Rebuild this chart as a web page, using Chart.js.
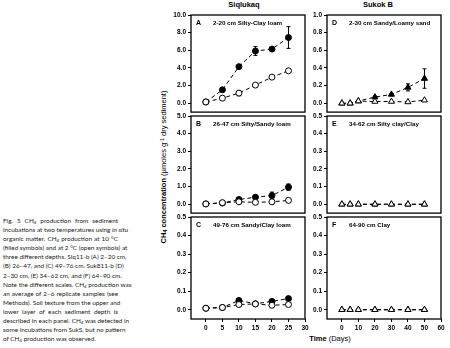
<!DOCTYPE html>
<html>
<head>
<meta charset="utf-8">
<title>CH4 production in sediment incubations</title>
<script src="https://cdn.jsdelivr.net/npm/chart.js@4"></script>
<style>
  html, body { margin: 0; padding: 0; background: #fff; }
  body { width: 450px; height: 348px; position: relative; overflow: hidden; font-family: "Liberation Sans", Arial, sans-serif; }
  canvas.panel { position: absolute; }
  .caption { position: absolute; left: 3px; top: 216px; width: 115px; font-family: Lato, "Open Sans", sans-serif; font-size: 6.4px; line-height: 9.1px; color: #222; }
  .caption div { text-align: justify; text-align-last: justify; white-space: nowrap; }
  .caption div.last { text-align-last: left; }
  .caption sub { font-size: 70%; vertical-align: -1px; line-height: 0; }
  .col-title { position: absolute; top: 0; font-weight: bold; font-size: 7.5px; transform: translateX(-50%); white-space: nowrap; }
  .ytitle { position: absolute; left: 163px; top: 167px; font-size: 7.5px; white-space: nowrap; transform: translate(-50%, -50%) rotate(-90deg); }
  .ytitle sub { font-size: 70%; vertical-align: -1px; line-height: 0; }
  .ytitle sup { font-size: 70%; vertical-align: 2px; line-height: 0; }
  .xtitle { position: absolute; left: 330px; top: 334px; font-size: 7.5px; white-space: nowrap; transform: translateX(-50%); }
</style>
</head>
<body>

<div class="caption">
  <div>Fig. 5 CH<sub>4</sub> production from sediment</div>
  <div>incubations at two temperatures using <i>in situ</i></div>
  <div>organic matter. CH<sub>4</sub> production at 10 °C</div>
  <div>(filled symbols) and at 2 °C (open symbols) at</div>
  <div>three different depths. Siq11-b (A) 2–20 cm,</div>
  <div>(B) 26–47, and (C) 49–76 cm. Suk811-b (D)</div>
  <div>2–30 cm, (E) 34–62 cm, and (F) 64–90 cm.</div>
  <div>Note the different scales. CH<sub>4</sub> production was</div>
  <div>an average of 2–6 replicate samples (see</div>
  <div>Methods). Soil texture from the upper and</div>
  <div>lower layer of each sediment depth is</div>
  <div>described in each panel. CH<sub>4</sub> was detected in</div>
  <div>some incubations from SukS, but no pattern</div>
  <div class="last">of CH<sub>4</sub> production was observed.</div>
</div>

<div class="col-title" style="left:244px">Siqlukaq</div>
<div class="col-title" style="left:378px">Sukok B</div>
<div class="ytitle"><b>CH<sub>4</sub> concentration</b> (µmoles g<sup>-1</sup> dry sediment)</div>
<div class="xtitle"><b>Time</b> (Days)</div>

<canvas class="panel" id="panelA"></canvas>
<canvas class="panel" id="panelB"></canvas>
<canvas class="panel" id="panelC"></canvas>
<canvas class="panel" id="panelD"></canvas>
<canvas class="panel" id="panelE"></canvas>
<canvas class="panel" id="panelF"></canvas>

<script>
// sampling days
const siqDays = [0, 5, 10, 15, 20, 25];
const sukDays = [0, 5, 10, 20, 30, 40, 50];

// Siqlukaq, 10 °C (filled) and 2 °C (open)
const siqA_warm = [0.15, 1.52, 4.15, 5.92, 6.14, 7.45];
const siqA_warmErr = [0, 0, 0, 0.5, 0.25, 1.23];
const siqA_cold = [0.15, 0.58, 1.15, 2.06, 2.96, 3.68];
const siqA_coldErr = [0, 0, 0.3, 0, 0, 0];

const siqB_warm = [0.02, 0.07, 0.27, 0.4, 0.49, 0.97];
const siqB_warmErr = [0, 0, 0.05, 0.08, 0.2, 0.18];
const siqB_cold = [0.02, 0.09, 0.14, 0.11, 0.14, 0.22];
const siqB_coldErr = [0, 0, 0, 0, 0, 0];

const siqC_warm = [0.008, 0.012, 0.05, 0.032, 0.045, 0.06];
const siqC_warmErr = [0, 0, 0.01, 0, 0.01, 0.008];
const siqC_cold = [0.008, 0.012, 0.028, 0.031, 0.024, 0.028];
const siqC_coldErr = [0, 0, 0, 0, 0, 0];

// Sukok B
const sukD_warm = [0, 0, 0.025, 0.07, 0.1, 0.18, 0.28];
const sukD_warmErr = [0, 0, 0, 0.01, 0.01, 0.04, 0.11];
const sukD_cold = [0, 0, 0.025, 0.02, 0.02, 0.015, 0.035];
const sukD_coldErr = [0, 0, 0, 0, 0, 0, 0];

const sukE_warm = [0, 0, 0, 0, 0, 0, 0];
const sukE_cold = [0, 0, 0, 0, 0, 0, 0];
const sukF_warm = [0, 0, 0, 0, 0, 0, 0];
const sukF_cold = [0, 0, 0, 0, 0, 0, 0];
const zeroErr = [0, 0, 0, 0, 0, 0, 0];

// tick labels
const ticksA = [0, 2, 4, 6, 8, 10];
const ticksB = [0, 1, 2, 3, 4, 5];
const ticksD = [0, 0.2, 0.4, 0.6, 0.8, 1.0];
const ticksSmall = [0, 0.1, 0.2, 0.3, 0.4, 0.5];
const siqTicks = [0, 5, 10, 15, 20, 25, 30];
const sukTicks = [0, 10, 20, 30, 40, 50, 60];

// frame layout
const AXIS_W = 40;
const PAD_TOP = 6;
const X_AXIS_H = 19;
const cols = [{ left: 191, right: 305, xmin: -4.5, xmax: 30 },
              { left: 327, right: 441, xmin: -9, xmax: 60 }];
const rows = [{ top: 15, bottom: 116 }, { top: 116, bottom: 217 }, { top: 217, bottom: 319 }];

const tickFont = { family: '"Liberation Sans", Arial, sans-serif', size: 6.5, weight: 'bold' };

// vertical error bars with caps, drawn under the markers
const errorBarPlugin = {
  id: 'errorBars',
  beforeDatasetsDraw(chart) {
    const ctx = chart.ctx;
    const xs = chart.scales.x, ys = chart.scales.y;
    ctx.save();
    ctx.strokeStyle = '#000';
    ctx.lineWidth = 1;
    chart.data.datasets.forEach(ds => {
      (ds.errorBars || []).forEach((e, i) => {
        if (!e) return;
        const pt = ds.data[i];
        const x = xs.getPixelForValue(pt.x);
        const y1 = ys.getPixelForValue(pt.y + e);
        const y2 = ys.getPixelForValue(pt.y - e);
        ctx.beginPath();
        ctx.moveTo(x, y1); ctx.lineTo(x, y2);
        ctx.moveTo(x - 2, y1); ctx.lineTo(x + 2, y1);
        ctx.moveTo(x - 2, y2); ctx.lineTo(x + 2, y2);
        ctx.stroke();
      });
    });
    ctx.restore();
  }
};

// box around the plot area plus the panel letter and soil description
const framePlugin = {
  id: 'frame',
  afterDraw(chart, args, opts) {
    const a = chart.chartArea;
    const ctx = chart.ctx;
    ctx.save();
    ctx.strokeStyle = '#000';
    ctx.lineWidth = 1.3;
    ctx.strokeRect(a.left, a.top, a.right - a.left, a.bottom - a.top);
    ctx.fillStyle = '#000';
    ctx.textBaseline = 'middle';
    ctx.font = 'bold 7px "Liberation Sans", Arial, sans-serif';
    ctx.fillText(opts.letter, a.left + 5, a.top + 8);
    ctx.font = 'bold 6.2px "Liberation Sans", Arial, sans-serif';
    ctx.fillText(opts.text, a.left + 22, a.top + 8);
    ctx.restore();
  }
};

function series(days, values, errs, filled, shape) {
  return {
    data: days.map((d, i) => ({ x: d, y: values[i] })),
    errorBars: errs,
    borderColor: '#000',
    borderWidth: 1,
    borderDash: [4, 3],
    pointStyle: shape,
    pointRadius: shape === 'triangle' ? 3.5 : 3,
    pointBorderWidth: 1,
    pointBorderColor: '#000',
    pointBackgroundColor: filled ? '#000' : '#fff',
    showLine: true,
    fill: false,
    tension: 0
  };
}

function makePanel(id, col, row, yRange, yTicks, days, warm, warmErr, cold, coldErr, shape, letter, text, xTicks) {
  const c = cols[col], r = rows[row];
  const bottomRow = !!xTicks;
  const padBottom = bottomRow ? 1 : 2;
  const padRight = 6;
  const canvas = document.getElementById(id);
  const w = AXIS_W + (c.right - c.left) + padRight;
  const h = PAD_TOP + (r.bottom - r.top) + padBottom + (bottomRow ? X_AXIS_H : 0);
  canvas.width = w; canvas.height = h;
  canvas.style.width = w + 'px'; canvas.style.height = h + 'px';
  canvas.style.left = (c.left - AXIS_W) + 'px';
  canvas.style.top = (r.top - PAD_TOP) + 'px';

  return new Chart(canvas.getContext('2d'), {
    type: 'scatter',
    data: {
      // open symbols first so they sit on top of the filled ones
      datasets: [
        series(days, cold, coldErr, false, shape),
        series(days, warm, warmErr, true, shape)
      ]
    },
    options: {
      responsive: false,
      animation: false,
      events: [],
      layout: { autoPadding: false, padding: { top: PAD_TOP, right: padRight, bottom: padBottom, left: 0 } },
      plugins: {
        legend: { display: false },
        tooltip: { enabled: false },
        frame: { letter: letter, text: text }
      },
      scales: {
        x: {
          type: 'linear',
          min: c.xmin, max: c.xmax,
          display: bottomRow,
          afterBuildTicks: s => { if (xTicks) s.ticks = xTicks.map(v => ({ value: v })); },
          afterFit: s => { if (bottomRow) s.height = X_AXIS_H; },
          grid: { drawOnChartArea: false, drawTicks: true, tickLength: 3, color: '#000' },
          border: { display: false },
          ticks: { color: '#000', font: tickFont, padding: 2, maxRotation: 0, autoSkip: false, callback: v => String(v) }
        },
        y: {
          type: 'linear',
          min: yRange[0], max: yRange[1],
          afterBuildTicks: s => { s.ticks = yTicks.map(v => ({ value: v })); },
          afterFit: s => { s.width = AXIS_W; },
          grid: { drawOnChartArea: false, drawTicks: true, tickLength: 3, color: '#000' },
          border: { display: false },
          ticks: { color: '#000', font: tickFont, padding: 2, autoSkip: false, callback: v => v.toFixed(1) }
        }
      }
    },
    plugins: [errorBarPlugin, framePlugin]
  });
}

makePanel('panelA', 0, 0, [-1, 10], ticksA, siqDays, siqA_warm, siqA_warmErr, siqA_cold, siqA_coldErr, 'circle', 'A', '2-20 cm Silty-Clay loam');
makePanel('panelB', 0, 1, [-0.5, 5], ticksB, siqDays, siqB_warm, siqB_warmErr, siqB_cold, siqB_coldErr, 'circle', 'B', '26-47 cm Silty/Sandy loam');
makePanel('panelC', 0, 2, [-0.05, 0.5], ticksSmall, siqDays, siqC_warm, siqC_warmErr, siqC_cold, siqC_coldErr, 'circle', 'C', '49-76 cm Sandy/Clay loam', siqTicks);
makePanel('panelD', 1, 0, [-0.1, 1.0], ticksD, sukDays, sukD_warm, sukD_warmErr, sukD_cold, sukD_coldErr, 'triangle', 'D', '2-30 cm Sandy/Loamy sand');
makePanel('panelE', 1, 1, [-0.05, 0.5], ticksSmall, sukDays, sukE_warm, zeroErr, sukE_cold, zeroErr, 'triangle', 'E', '34-62 cm Silty clay/Clay');
makePanel('panelF', 1, 2, [-0.05, 0.5], ticksSmall, sukDays, sukF_warm, zeroErr, sukF_cold, zeroErr, 'triangle', 'F', '64-90 cm Clay', sukTicks);
</script>
</body>
</html>
